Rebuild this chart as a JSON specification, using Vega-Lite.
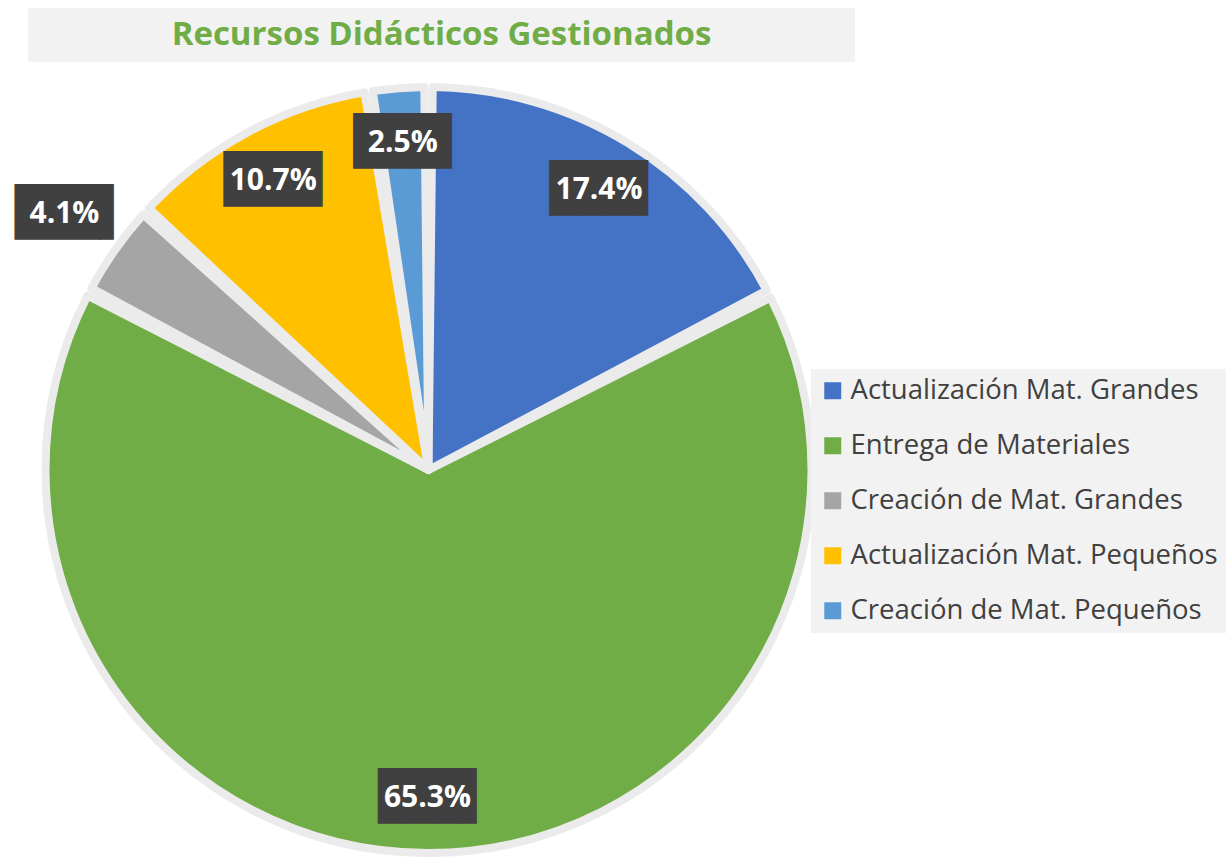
{
  "$schema": "https://vega.github.io/schema/vega-lite/v6.json",
  "padding": {"left": 14, "top": 8, "right": 0, "bottom": 0},
  "background": "white",
  "spacing": 19,
  "bounds": "flush",
  "config": {"view": {"stroke": null}, "font": "Open Sans"},
  "datasets": {
    "recursos": [
      {"categoria": "Actualización Mat. Grandes", "proporcion": 0.174, "orden": 1},
      {"categoria": "Entrega de Materiales", "proporcion": 0.653, "orden": 2},
      {"categoria": "Creación de Mat. Grandes", "proporcion": 0.041, "orden": 3},
      {"categoria": "Actualización Mat. Pequeños", "proporcion": 0.107, "orden": 4},
      {"categoria": "Creación de Mat. Pequeños", "proporcion": 0.025, "orden": 5}
    ],
    "titulo": [{"t": "Recursos Didácticos Gestionados"}]
  },
  "vconcat": [
    {
      "width": 827,
      "height": 54,
      "view": {"fill": "#F2F2F2", "stroke": null},
      "data": {"name": "titulo"},
      "mark": {"type": "text", "font": "Open Sans", "fontWeight": "bold", "fontSize": 33, "color": "#70AD47", "baseline": "middle", "align": "center"},
      "encoding": {"text": {"field": "t", "type": "nominal"}}
    },
    {
      "width": 801,
      "height": 778,
      "data": {"name": "recursos"},
      "encoding": {
        "theta": {"field": "proporcion", "type": "quantitative", "stack": true},
        "order": {"field": "orden", "type": "quantitative"}
      },
      "layer": [
        {
          "mark": {"type": "arc", "outerRadius": 383, "stroke": "#EBEBEB", "strokeWidth": 8, "strokeJoin": "round", "padAngle": 0.022},
          "encoding": {
            "color": {
              "field": "categoria",
              "type": "nominal",
              "scale": {
                "domain": ["Actualización Mat. Grandes", "Entrega de Materiales", "Creación de Mat. Grandes", "Actualización Mat. Pequeños", "Creación de Mat. Pequeños"],
                "range": ["#4472C4", "#70AD47", "#A5A5A5", "#FFC000", "#5B9BD5"]
              },
              "legend": {
                "orient": "none",
                "legendX": 783,
                "legendY": 361,
                "title": null,
                "fillColor": "#F2F2F2",
                "padding": 8,
                "symbolType": "square",
                "symbolSize": 289,
                "symbolStrokeWidth": 0,
                "labelFont": "Open Sans",
                "labelFontSize": 27.5,
                "labelColor": "#404040",
                "labelOffset": 4,
                "labelLimit": 420,
                "rowPadding": 26
              }
            }
          }
        },
        {
          "mark": {"type": "text", "text": "███▌", "font": "DejaVu Sans Mono", "fontSize": 47, "dx": 7, "color": "#404040", "baseline": "middle", "align": "center", "radius": {"expr": "datum.proporcion > 0.03 && datum.proporcion < 0.05 ? 445 : 328"}},
          "encoding": {"detail": {"field": "categoria", "type": "nominal"}}
        },
        {
          "mark": {"type": "text", "font": "Open Sans", "fontWeight": "bold", "fontSize": 30, "color": "white", "baseline": "middle", "align": "center", "radius": {"expr": "datum.proporcion > 0.03 && datum.proporcion < 0.05 ? 445 : 328"}},
          "encoding": {
            "detail": {"field": "categoria", "type": "nominal"},
            "text": {"field": "proporcion", "type": "quantitative", "format": ".1%"}
          }
        }
      ]
    }
  ]
}
